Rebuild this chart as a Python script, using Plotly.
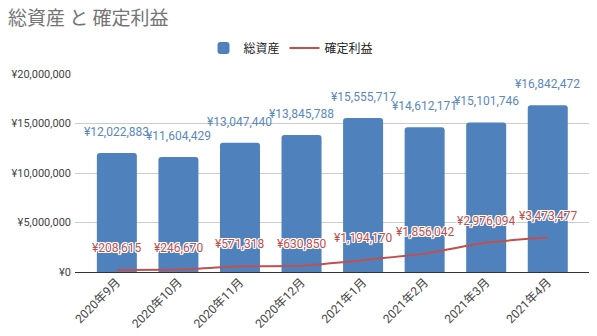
import plotly.graph_objects as go

months = ["2020年9月", "2020年10月", "2020年11月", "2020年12月",
          "2021年1月", "2021年2月", "2021年3月", "2021年4月"]
total_assets = [12022883, 11604429, 13047440, 13845788,
                15555717, 14612171, 15101746, 16842472]
realized_profit = [208615, 246670, 571318, 630850,
                   1194170, 1856042, 2976094, 3473477]
y_ticks = [0, 5000000, 10000000, 15000000, 20000000]

BLUE = "#4f81bd"
RED = "#c0504d"
FONT = "Roboto, 'Noto Sans CJK JP', sans-serif"
HALO = "1px 1px 0 #fff, -1px -1px 0 #fff, 1px -1px 0 #fff, -1px 1px 0 #fff, 0 1px 0 #fff, 0 -1px 0 #fff, 1px 0 0 #fff, -1px 0 0 #fff"

xs = list(range(len(months)))

fig = go.Figure()
fig.add_trace(go.Bar(
    x=xs, y=total_assets, name="総資産",
    marker=dict(color=BLUE, line=dict(width=0), cornerradius=3),
    width=0.65, hoverinfo="skip",
))
fig.add_trace(go.Scatter(
    x=xs, y=realized_profit, name="確定利益", mode="lines",
    line=dict(color=RED, width=2, shape="spline", smoothing=0.5),
    hoverinfo="skip",
))

annotations = []
for i, v in enumerate(total_assets):
    annotations.append(dict(
        x=i, y=v, xref="x", yref="y", text=f"¥{v:,}", showarrow=False,
        yshift=21, yanchor="middle", xanchor="center",
        font=dict(family=FONT, size=12, color="#5a88c3"),
    ))
for i, v in enumerate(realized_profit):
    annotations.append(dict(
        x=i, y=v, xref="x", yref="y", text=f"¥{v:,}", showarrow=False,
        yshift=22, yanchor="middle", xanchor="center",
        font=dict(family=FONT, size=12, color=RED, shadow=HALO),
    ))

fig.update_layout(
    width=597, height=336,
    margin=dict(l=75, r=8, t=74, b=64, autoexpand=False),
    paper_bgcolor="white", plot_bgcolor="white",
    font=dict(family=FONT, size=11, color="#444"),
    title=dict(text="総資産 と 確定利益", x=8 / 597, xanchor="left",
               xref="container", yref="container", y=1 - 18 / 336, yanchor="middle",
               font=dict(family="'Noto Sans CJK JP', sans-serif", size=19, color="#757575")),
    legend=dict(orientation="h", x=(291 - 75) / 514, xanchor="center",
                y=1 + (74 - 48) / 198, yanchor="middle",
                font=dict(family="'Noto Sans CJK JP', sans-serif", size=12, color="#222"),
                bgcolor="rgba(0,0,0,0)"),
    bargap=0.35,
    annotations=annotations,
    showlegend=True,
)
fig.update_xaxes(
    range=[-0.68, 7.67], tickmode="array", tickvals=xs, ticktext=months,
    tickangle=-45, showgrid=False, showline=False, zeroline=False,
    ticks="", tickfont=dict(family=FONT, size=12, color="#444"),
    fixedrange=True, automargin=False,
)
fig.update_yaxes(
    range=[0, 20000000], tickmode="array", tickvals=y_ticks,
    ticktext=[f"¥{t:,}" for t in y_ticks],
    showgrid=True, gridcolor="#cccccc", gridwidth=1,
    zeroline=True, zerolinecolor="#333", zerolinewidth=1,
    showline=False, ticks="", ticklabelstandoff=3,
    tickfont=dict(family=FONT, size=11, color="#444"),
    fixedrange=True, automargin=False,
)

fig.write_html("out.html", config={"displayModeBar": False})
